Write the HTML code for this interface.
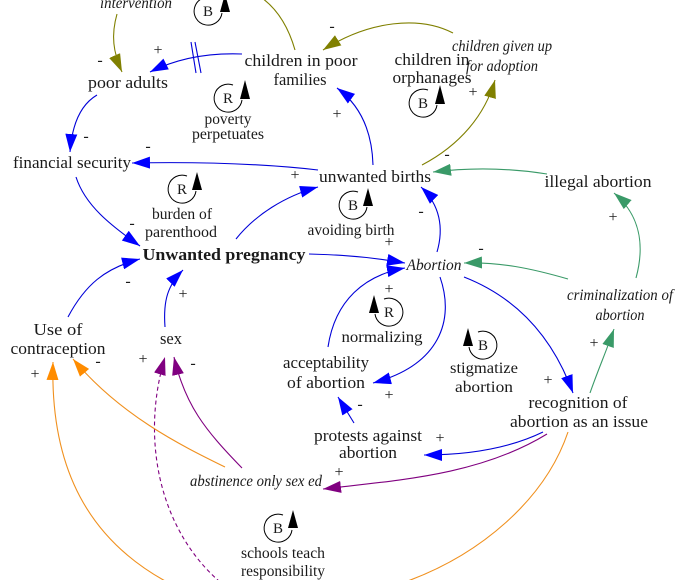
<!DOCTYPE html>
<html>
<head>
<meta charset="utf-8">
<style>
html,body{margin:0;padding:0;background:#fff;}
svg{display:block;}
text{font-family:"Liberation Serif",serif;fill:#1a1a1a;}
.n{font-size:17px;}
.b{font-size:17px;font-weight:bold;}
.i{font-size:16px;font-style:italic;}
.l{font-size:15.5px;}
.s{font-size:16px;fill:#444;}
.lp{font-size:15px;}
</style>
</head>
<body>
<svg width="689" height="580" viewBox="0 0 689 580" xmlns="http://www.w3.org/2000/svg">
<defs>
<marker id="mb" viewBox="0 0 18 12" refX="18" refY="6" markerWidth="18" markerHeight="12" markerUnits="userSpaceOnUse" orient="auto"><path d="M0,0 L18,6 L0,12 z" fill="#0000ff"/></marker>
<marker id="mo" viewBox="0 0 18 12" refX="18" refY="6" markerWidth="18" markerHeight="12" markerUnits="userSpaceOnUse" orient="auto"><path d="M0,0 L18,6 L0,12 z" fill="#808000"/></marker>
<marker id="mg" viewBox="0 0 18 12" refX="18" refY="6" markerWidth="18" markerHeight="12" markerUnits="userSpaceOnUse" orient="auto"><path d="M0,0 L18,6 L0,12 z" fill="#3a9a68"/></marker>
<marker id="mp" viewBox="0 0 18 12" refX="18" refY="6" markerWidth="18" markerHeight="12" markerUnits="userSpaceOnUse" orient="auto"><path d="M0,0 L18,6 L0,12 z" fill="#800080"/></marker>
<marker id="mr" viewBox="0 0 18 12" refX="18" refY="6" markerWidth="18" markerHeight="12" markerUnits="userSpaceOnUse" orient="auto"><path d="M0,0 L18,6 L0,12 z" fill="#ff8c00"/></marker>
</defs>

<g fill="none" stroke-width="1.1">
<!-- olive -->
<path d="M117,14 C111,35 113,52 122,72" stroke="#808000" marker-end="url(#mo)"/>
<path d="M295,50 Q285,15 262,-2" stroke="#808000"/>
<path d="M453,33 C420,16 370,20 323,50" stroke="#808000" marker-end="url(#mo)"/>
<path d="M422,165 C460,145 485,115 495,80" stroke="#808000" marker-end="url(#mo)"/>

<!-- blue -->
<path d="M242,54 Q190,52 150,72" stroke="#0000d8" marker-end="url(#mb)"/>
<path d="M373,165 C372,130 360,105 337,88" stroke="#0000d8" marker-end="url(#mb)"/>
<path d="M318,170 Q240,161 132,163" stroke="#0000d8" marker-end="url(#mb)"/>
<path d="M97,95 C80,105 72,125 70,152" stroke="#0000d8" marker-end="url(#mb)"/>
<path d="M76,177 C85,205 110,225 140,246" stroke="#0000d8" marker-end="url(#mb)"/>
<path d="M236,239 C255,215 285,196 318,187" stroke="#0000d8" marker-end="url(#mb)"/>
<path d="M309,254 Q360,255 405,263" stroke="#0000d8" marker-end="url(#mb)"/>
<path d="M437,252 C444,228 440,205 421,187" stroke="#0000d8" marker-end="url(#mb)"/>
<path d="M328,347 C335,300 365,275 405,268" stroke="#0000d8" marker-end="url(#mb)"/>
<path d="M440,277 C455,320 440,365 373,383" stroke="#0000d8" marker-end="url(#mb)"/>
<path d="M464,277 C510,295 550,330 573,393" stroke="#0000d8" marker-end="url(#mb)"/>
<path d="M354,423 L338,397" stroke="#0000d8" marker-end="url(#mb)"/>
<path d="M543,432 C510,448 470,455 424,455" stroke="#0000d8" marker-end="url(#mb)"/>
<path d="M165,327 C163,300 168,285 183,270" stroke="#0000d8" marker-end="url(#mb)"/>
<path d="M68,317 C85,285 105,268 140,259" stroke="#0000d8" marker-end="url(#mb)"/>

<!-- green -->
<path d="M590,393 C598,370 606,352 614,329" stroke="#3a9a68" marker-end="url(#mg)"/>
<path d="M568,279 C530,268 500,262 464,263" stroke="#3a9a68" marker-end="url(#mg)"/>
<path d="M636,278 C645,245 640,215 614,193" stroke="#3a9a68" marker-end="url(#mg)"/>
<path d="M547,174 Q490,165 433,172" stroke="#3a9a68" marker-end="url(#mg)"/>

<!-- purple -->
<path d="M547,434 C480,475 400,480 323,489" stroke="#800080" marker-end="url(#mp)"/>
<path d="M242,468 C205,430 185,405 174,357" stroke="#800080" marker-end="url(#mp)"/>
<path d="M220,582 C160,530 140,440 165,357" stroke="#800080" stroke-dasharray="4,3" marker-end="url(#mp)"/>

<!-- orange -->
<path d="M568,432 C545,500 480,555 405,582" stroke="#f0901e"/>
<path d="M167,582 C90,540 50,470 53,362" stroke="#f0901e" marker-end="url(#mr)"/>
<path d="M225,467 C180,445 120,415 73,359" stroke="#f0901e" marker-end="url(#mr)"/>

<!-- delay marks -->
<path d="M191,42 L196,73 M195,42 L201,73" stroke="#0000d8"/>
</g>

<!-- loop icons -->
<g fill="none" stroke="#000" stroke-width="1">
<path d="M213,-2 A14 14 0 1 0 222,13"/>
<path d="M233,85 A14 14 0 1 0 242,100"/>
<path d="M428,90 A14 14 0 1 0 437,105"/>
<path d="M187,176 A14 14 0 1 0 196,191"/>
<path d="M358,192 A14 14 0 1 0 367,207"/>
<path d="M283,515 A14 14 0 1 0 292,530"/>
<path d="M384,299 A14 14 0 1 1 375,314"/>
<path d="M478,332 A14 14 0 1 1 469,347"/>
</g>
<g fill="#000">
<polygon points="225,-6 220,12 230,12"/>
<polygon points="245,80 240,99 250,99"/>
<polygon points="440,85 435,104 445,104"/>
<polygon points="197,172 192,190 202,190"/>
<polygon points="368,188 363,206 373,206"/>
<polygon points="293,510 288,528 298,528"/>
<polygon points="374,295 369,313 379,313"/>
<polygon points="468,328 463,346 473,346"/>
</g>
<g class="lp" text-anchor="middle">
<text x="208" y="16">B</text>
<text x="228" y="103">R</text>
<text x="423" y="108">B</text>
<text x="182" y="194">R</text>
<text x="353" y="210">B</text>
<text x="278" y="533">B</text>
<text x="389" y="317">R</text>
<text x="483" y="350">B</text>
</g>

<!-- node labels -->
<g class="n" text-anchor="middle">
<text x="128" y="88" textLength="80" lengthAdjust="spacingAndGlyphs">poor adults</text>
<text x="301" y="66" textLength="113" lengthAdjust="spacingAndGlyphs">children in poor</text>
<text x="300" y="85" textLength="53" lengthAdjust="spacingAndGlyphs">families</text>
<text x="432" y="65" textLength="75" lengthAdjust="spacingAndGlyphs">children in</text>
<text x="432" y="83" textLength="79" lengthAdjust="spacingAndGlyphs">orphanages</text>
<text x="72" y="168" textLength="118" lengthAdjust="spacingAndGlyphs">financial security</text>
<text x="375" y="182" textLength="112" lengthAdjust="spacingAndGlyphs">unwanted births</text>
<text x="598" y="187" textLength="107" lengthAdjust="spacingAndGlyphs">illegal abortion</text>
<text x="58" y="335" textLength="49" lengthAdjust="spacingAndGlyphs">Use of</text>
<text x="58" y="354" textLength="95" lengthAdjust="spacingAndGlyphs">contraception</text>
<text x="171" y="344" textLength="22" lengthAdjust="spacingAndGlyphs">sex</text>
<text x="326" y="368" textLength="86" lengthAdjust="spacingAndGlyphs">acceptability</text>
<text x="326" y="388" textLength="78" lengthAdjust="spacingAndGlyphs">of abortion</text>
<text x="578" y="408" textLength="99" lengthAdjust="spacingAndGlyphs">recognition of</text>
<text x="579" y="427" textLength="138" lengthAdjust="spacingAndGlyphs">abortion as an issue</text>
<text x="368" y="441" textLength="108" lengthAdjust="spacingAndGlyphs">protests against</text>
<text x="368" y="458" textLength="58" lengthAdjust="spacingAndGlyphs">abortion</text>
</g>
<text class="b" x="224" y="260" text-anchor="middle" textLength="163" lengthAdjust="spacingAndGlyphs">Unwanted pregnancy</text>
<g class="i" text-anchor="middle">
<text x="136" y="8" textLength="72" lengthAdjust="spacingAndGlyphs">intervention</text>
<text x="502" y="51" textLength="100" lengthAdjust="spacingAndGlyphs">children given up</text>
<text x="502" y="71" textLength="72" lengthAdjust="spacingAndGlyphs">for adoption</text>
<text x="434" y="270" textLength="55" lengthAdjust="spacingAndGlyphs">Abortion</text>
<text x="620" y="300" textLength="106" lengthAdjust="spacingAndGlyphs">criminalization of</text>
<text x="620" y="320" textLength="49" lengthAdjust="spacingAndGlyphs">abortion</text>
<text x="256" y="486" textLength="132" lengthAdjust="spacingAndGlyphs">abstinence only sex ed</text>
</g>
<g class="l" text-anchor="middle">
<text x="228" y="124" textLength="47" lengthAdjust="spacingAndGlyphs">poverty</text>
<text x="228" y="139" textLength="72" lengthAdjust="spacingAndGlyphs">perpetuates</text>
<text x="182" y="219" textLength="60" lengthAdjust="spacingAndGlyphs">burden of</text>
<text x="181" y="237" textLength="72" lengthAdjust="spacingAndGlyphs">parenthood</text>
<text x="351" y="235" textLength="87" lengthAdjust="spacingAndGlyphs">avoiding birth</text>
<text x="382" y="342" textLength="81" lengthAdjust="spacingAndGlyphs">normalizing</text>
<text x="484" y="373" textLength="68" lengthAdjust="spacingAndGlyphs">stigmatize</text>
<text x="484" y="392" textLength="58" lengthAdjust="spacingAndGlyphs">abortion</text>
<text x="283" y="558" textLength="84" lengthAdjust="spacingAndGlyphs">schools teach</text>
<text x="283" y="576" textLength="84" lengthAdjust="spacingAndGlyphs">responsibility</text>
</g>

<!-- polarity signs -->
<g class="s" text-anchor="middle">
<text x="100" y="65">-</text>
<text x="158" y="55">+</text>
<text x="332" y="31">-</text>
<text x="337" y="119">+</text>
<text x="86" y="141">-</text>
<text x="148" y="151">-</text>
<text x="295" y="180">+</text>
<text x="447" y="159">-</text>
<text x="473" y="97">+</text>
<text x="132" y="228">-</text>
<text x="128" y="286">-</text>
<text x="183" y="299">+</text>
<text x="143" y="364">+</text>
<text x="193" y="368">-</text>
<text x="98" y="366">-</text>
<text x="35" y="379">+</text>
<text x="389" y="247">+</text>
<text x="421" y="216">-</text>
<text x="389" y="294">+</text>
<text x="389" y="400">+</text>
<text x="360" y="409">-</text>
<text x="481" y="253">-</text>
<text x="613" y="222">+</text>
<text x="594" y="348">+</text>
<text x="548" y="385">+</text>
<text x="440" y="443">+</text>
<text x="339" y="477">+</text>
</g>
</svg>
</body>
</html>
